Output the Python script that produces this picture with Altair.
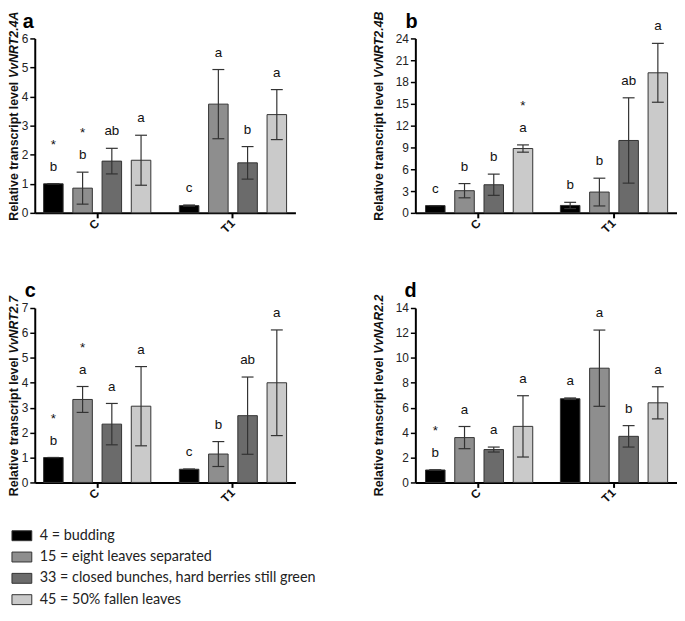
import altair as alt
import pandas as pd

groups = ["C", "T1"]
stages = [
    "4 = budding",
    "15 = eight leaves separated",
    "33 = closed bunches, hard berries still green",
    "45 = 50% fallen leaves",
]
stage_colors = ["#000000", "#8e8e8e", "#6b6b6b", "#cacaca"]

# order: C(4 stages), T1(4 stages)
a_mean = [1.0, 0.85, 1.78, 1.81, 0.25, 3.74, 1.72, 3.38]
a_sd = [0.0, 0.55, 0.44, 0.86, 0.02, 1.19, 0.56, 0.86]
a_letter = ["b", "b", "ab", "a", "c", "a", "b", "a"]
a_star = ["*", "*", "", "", "", "", "", ""]

b_mean = [1.0, 3.05, 3.87, 8.85, 1.02, 2.86, 9.96, 19.27]
b_sd = [0.0, 0.98, 1.46, 0.5, 0.43, 1.91, 5.87, 4.05]
b_letter = ["c", "b", "b", "a", "b", "b", "ab", "a"]
b_star = ["", "", "", "*", "", "", "", ""]

c_mean = [1.0, 3.33, 2.34, 3.06, 0.53, 1.14, 2.68, 4.0]
c_sd = [0.0, 0.52, 0.83, 1.59, 0.0, 0.5, 1.55, 2.12]
c_letter = ["b", "a", "a", "a", "c", "b", "ab", "a"]
c_star = ["*", "*", "", "", "", "", "", ""]

d_mean = [1.0, 3.6, 2.64, 4.5, 6.72, 9.17, 3.7, 6.39]
d_sd = [0.0, 0.89, 0.2, 2.46, 0.06, 3.06, 0.86, 1.29]
d_letter = ["b", "a", "a", "a", "a", "a", "b", "a"]
d_star = ["*", "", "", "", "", "", "", ""]

a_ticks = [0, 1, 2, 3, 4, 5, 6]
b_ticks = [0, 3, 6, 9, 12, 15, 18, 21, 24]
c_ticks = [0, 1, 2, 3, 4, 5, 6, 7]
d_ticks = [0, 2, 4, 6, 8, 10, 12, 14]

title_main = "Relative transcript level"
genes = ["VvNRT2.4A", "VvNRT2.4B", "VvNRT2.7", "VvNAR2.2"]
panel_keys = ["a", "b", "c", "d"]

FONT = "Liberation Sans"

# Arial bold advance widths (per 1000 em) to chain the two title pieces
_W = {"R": 722, "e": 556, "l": 278, "a": 556, "t": 333, "i": 278, "v": 556,
      " ": 278, "r": 389, "n": 611, "s": 556, "c": 556, "p": 611,
      "V": 667, "N": 722, "T": 611, "A": 722, "B": 722, ".": 278}


def text_len(s, fs):
    return sum(_W.get(ch, 556) for ch in s) * fs / 1000.0


W_LEFT = 263
W_RIGHT = 264
H = 176


def make_panel(key, gene, mean, sd, letters, stars, ticks, width,
               outer, title_x, title_y0, title_fs, label_x):
    rows = []
    for i in range(8):
        m = mean[i]
        rows.append(dict(group=groups[i // 4], stage=stages[i % 4], mean=m,
                         lo=m - sd[i], hi=m + sd[i], letter=letters[i],
                         star=stars[i]))
    df = pd.DataFrame(rows)
    base = alt.Chart(df)
    ymax = ticks[-1]
    xax = alt.Axis(labelAngle=315, labelAlign="right", labelBaseline="middle",
                   labelFontWeight="bold", labelFontSize=12, labelFont=FONT,
                   labelColor="#111", labelPadding=3, tickWidth=2, tickSize=5,
                   domainWidth=2, domainColor="#000", tickColor="#000")
    x = alt.X("group:N", sort=groups, title=None, axis=xax,
              scale=alt.Scale(paddingInner=0.1, paddingOuter=outer))
    xo = alt.XOffset("stage:N", sort=stages,
                     scale=alt.Scale(paddingInner=0.332, paddingOuter=0.256))
    yscale = alt.Scale(domain=[0, ymax], nice=False, zero=True)
    yax = alt.Axis(values=ticks, grid=False, domainWidth=2, domainColor="#000",
                   tickColor="#000", tickWidth=1.5, tickSize=5, labelPadding=2,
                   labelFont=FONT, labelFontSize=12, labelColor="#222")
    bars = base.mark_bar(stroke="#333", strokeWidth=1).encode(
        x=x, xOffset=xo,
        y=alt.Y("mean:Q", scale=yscale, axis=yax, title=None),
        color=alt.Color("stage:N", sort=stages,
                        scale=alt.Scale(domain=stages, range=stage_colors),
                        legend=None),
    )
    err = base.mark_rule(color="#333", strokeWidth=1.2).encode(
        x=x, xOffset=xo,
        y=alt.Y("lo:Q", scale=yscale, axis=yax, title=None), y2="hi:Q")
    cap_shape = "M-1,0L1,0"
    cap_hi = base.mark_point(shape=cap_shape, size=144, strokeWidth=1.2,
                             color="#333", opacity=1).encode(
        x=x, xOffset=xo, y=alt.Y("hi:Q", scale=yscale, axis=yax, title=None))
    cap_lo = base.mark_point(shape=cap_shape, size=144, strokeWidth=1.2,
                             color="#333", opacity=1).encode(
        x=x, xOffset=xo, y=alt.Y("lo:Q", scale=yscale, axis=yax, title=None))
    let = base.mark_text(baseline="middle", dy=-17, font=FONT, fontSize=13.5,
                         color="#111").encode(
        x=x, xOffset=xo, y=alt.Y("hi:Q", scale=yscale, axis=yax, title=None),
        text="letter:N")
    star = base.transform_filter("datum.star != ''").mark_text(
        baseline="middle", dy=-39, font=FONT, fontSize=13.5, color="#111").encode(
        x=x, xOffset=xo, y=alt.Y("hi:Q", scale=yscale, axis=yax, title=None),
        text="star:N")
    l1 = text_len(title_main, title_fs)
    sp = text_len(" ", title_fs)
    l2 = text_len(gene, title_fs)
    # both pieces anchored at their upper end (text runs downward from anchor)
    t1 = alt.Chart(pd.DataFrame({"t": [title_main]})).mark_text(
        angle=270, align="right", baseline="middle", font=FONT, fontSize=title_fs,
        fontWeight="bold", color="#111").encode(
        text="t:N", x=alt.value(title_x), y=alt.value(title_y0 - l1))
    t2 = alt.Chart(pd.DataFrame({"t": [gene]})).mark_text(
        angle=270, align="right", baseline="middle", font=FONT, fontSize=title_fs,
        fontWeight="bold", fontStyle="italic", color="#111").encode(
        text="t:N", x=alt.value(title_x), y=alt.value(title_y0 - l1 - sp - l2))
    lab = alt.Chart(pd.DataFrame({"t": [key]})).mark_text(
        align="left", baseline="alphabetic", font=FONT, fontSize=20,
        fontWeight="bold", color="#000").encode(
        text="t:N", x=alt.value(label_x), y=alt.value(-11))
    return alt.layer(bars, err, cap_hi, cap_lo, let, star, t1, t2, lab).properties(
        width=width, height=H)


pa = make_panel("a", genes[0], a_mean, a_sd, a_letter, a_star, a_ticks,
                W_LEFT, 0.01, -21, 184, 12.5, -12)
pb = make_panel("b", genes[1], b_mean, b_sd, b_letter, b_star, b_ticks,
                W_RIGHT, 0.02, -37, 184, 12.5, -10)
pc = make_panel("c", genes[2], c_mean, c_sd, c_letter, c_star, c_ticks,
                W_LEFT, 0.01, -21, 190, 12.5, -10)
pd_ = make_panel("d", genes[3], d_mean, d_sd, d_letter, d_star, d_ticks,
                 W_RIGHT, 0.02, -37, 190, 12.5, -11)

# legend rows: band scale shifted up into the gap above the third grid row
leg_df = pd.DataFrame({"stage": stages})
ly = alt.Y("stage:N", sort=stages, axis=None, title=None,
           scale=alt.Scale(range=[-53, 33], paddingInner=0, paddingOuter=0))
sw = alt.Chart(leg_df).mark_point(
    shape="M-1,-0.5L1,-0.5L1,0.5L-1,0.5Z", size=400, filled=True,
    stroke="#333", strokeWidth=1, opacity=1).encode(
    x=alt.value(-13), y=ly,
    color=alt.Color("stage:N", sort=stages,
                    scale=alt.Scale(domain=stages, range=stage_colors),
                    legend=None))
lt = alt.Chart(leg_df).mark_text(
    align="left", baseline="middle", font="Lato", fontSize=14.5,
    color="#222").encode(x=alt.value(5), y=ly, text="stage:N")
legend = alt.layer(sw, lt).properties(width=150, height=20)

chart = alt.concat(pa, pb, pc, pd_, legend, columns=2,
                   spacing=alt.RowColnumber(row=96, column=121),
                   bounds="flush").properties(
    padding=0
).configure_view(stroke=None)

chart.save("out.html", embed_options={"renderer": "svg", "actions": False})
